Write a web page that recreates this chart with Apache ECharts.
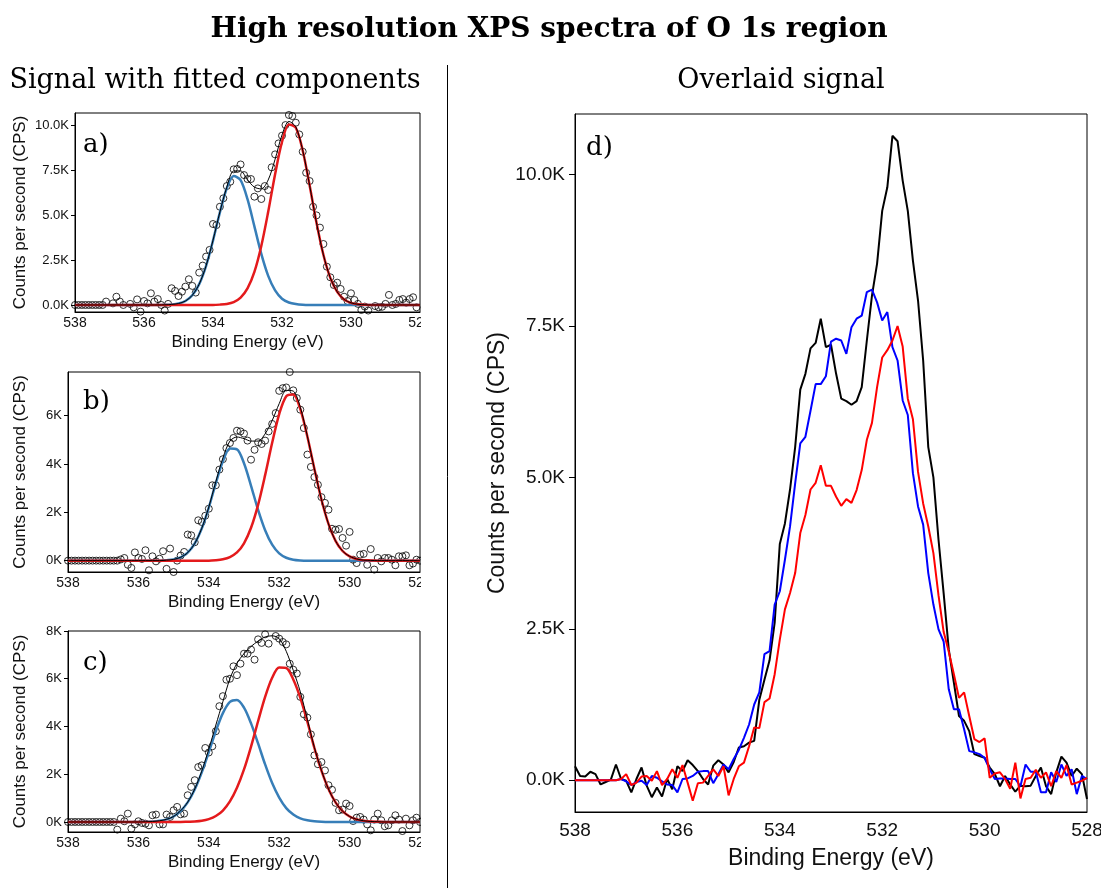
<!DOCTYPE html>
<html><head><meta charset="utf-8">
<script src="https://cdn.jsdelivr.net/npm/echarts@6/dist/echarts.min.js"></script>
<style>html,body{margin:0;padding:0;background:#fff}#c{width:1101px;height:888px}</style>
</head><body><div id="c"></div>
<script>
// Binding energies of the measured points (eV), 0.1 eV step
const dataE = [538.0,537.9,537.8,537.7,537.6,537.5,537.4,537.3,537.2,537.1,
537.0,536.9,536.8,536.7,536.6,536.5,536.4,536.3,536.2,536.1,
536.0,535.9,535.8,535.7,535.6,535.5,535.4,535.3,535.2,535.1,
535.0,534.9,534.8,534.7,534.6,534.5,534.4,534.3,534.2,534.1,
534.0,533.9,533.8,533.7,533.6,533.5,533.4,533.3,533.2,533.1,
533.0,532.9,532.8,532.7,532.6,532.5,532.4,532.3,532.2,532.1,
532.0,531.9,531.8,531.7,531.6,531.5,531.4,531.3,531.2,531.1,
531.0,530.9,530.8,530.7,530.6,530.5,530.4,530.3,530.2,530.1,
530.0,529.9,529.8,529.7,529.6,529.5,529.4,529.3,529.2,529.1,
529.0,528.9,528.8,528.7,528.6,528.5,528.4,528.3,528.2,528.1,528.0];
// Energies of the fitted-curve samples (eV), 0.2 eV step
const fitE = [538.0,537.8,537.6,537.4,537.2,537.0,536.8,536.6,536.4,536.2,
536.0,535.8,535.6,535.4,535.2,535.0,534.8,534.6,534.4,534.2,
534.0,533.8,533.6,533.4,533.2,533.0,532.8,532.6,532.4,532.2,
532.0,531.8,531.6,531.4,531.2,531.0,530.8,530.6,530.4,530.2,
530.0,529.8,529.6,529.4,529.2,529.0,528.8,528.6,528.4,528.2,528.0];

// Panel a) (kCPS)
const pointsA = [0,0,0,0,0,0,0,0,0,0.19,
-0.46,0.09,0.46,0.19,0.0,-0.46,0.06,-0.13,0.31,-0.37,
0.22,0.09,0.65,0.19,0.33,0.0,-0.31,0.06,0.93,0.78,
0.50,0.74,1.02,1.43,1.06,0.69,1.80,2.19,2.69,3.06,
4.50,4.44,5.46,5.93,6.61,6.85,7.54,7.56,7.81,7.22,
7.00,7.00,6.02,6.48,5.89,6.61,6.39,7.65,8.37,8.98,
9.41,10.0,10.56,10.5,10.13,9.48,8.52,7.35,6.89,5.46,
4.98,4.30,3.39,2.13,1.54,1.11,1.24,0.89,0.46,0.22,
0.65,0.28,0.06,-0.28,-0.09,-0.31,-0.46,-0.06,-0.13,-0.10,
0.06,0.56,0.0,0.06,0.28,0.33,0.13,0.33,0.43,-0.13,-0.46];
const blueA = [0,0,0,0,0,0,0,0,0,0,0,0,0,0.01,0.03,0.08,0.22,0.54,1.16,2.18,
3.58,5.15,6.49,7.17,6.94,5.88,4.37,2.84,1.62,0.81,0.35,0.14,0.05,0.01,
0,0,0,0,0,0,0,0,0,0,0,0,0,0,0,0,0];
const redA = [0,0,0,0,0,0,0,0,0,0,0,0,0,0,0,0,0,0,0,0,0,
0.02,0.06,0.16,0.41,0.92,1.84,3.28,5.18,7.27,9.06,10.03,9.85,8.59,6.65,4.57,2.79,1.51,0.73,0.31,0.12,0.04,0.01,
0,0,0,0,0,0,0,0];
const envA = [0,0,0,0,0,0,0,0,0,0,0,0,0,0.01,0.03,0.08,0.22,0.54,1.16,2.18,
3.60,5.17,6.55,7.45,7.45,6.95,6.55,6.45,6.95,8.10,9.45,10.20,9.90,8.60,6.65,4.57,2.79,1.51,0.73,0.31,0.12,0.04,0.01,
0,0,0,0,0,0,0,0];

// Panel b) (kCPS)
const pointsB = [0,0,0,0,0,0,0,0,0,0,
0,0,0,0,0,0.05,0.11,-0.17,-0.30,0.34,
0.11,0.07,0.43,-0.40,0.18,-0.03,0.08,0.39,-0.34,0.50,
-0.47,0.0,0.21,0.36,1.08,1.05,0.76,1.67,1.60,1.86,
2.15,3.12,3.12,3.77,4.20,4.66,4.87,5.08,5.38,5.35,
5.26,4.97,4.18,4.59,4.90,4.83,4.97,5.35,5.66,6.11,
7.03,7.14,7.17,7.81,7.05,6.73,6.25,5.49,4.39,3.88,
3.46,3.14,2.63,2.39,2.11,1.32,1.28,1.31,0.94,0.62,
1.19,0.04,-0.10,0.25,0.28,-0.17,0.48,-0.37,0.11,-0.03,
0.11,0.11,0.04,-0.19,0.18,0.18,0.22,-0.19,-0.12,0.04,0.0];
const blueB = [0,0,0,0,0,0,0,0,0,0,0,0,0,0,
0.02,0.05,0.14,0.33,0.71,1.33,2.20,3.21,4.11,4.64,4.61,4.03,3.10,2.10,1.26,0.66,0.30,0.12,0.04,0.01,
0,0,0,0,0,0,0,0,0,0,0,0,0,0,0,0,0];
const redB = [0,0,0,0,0,0,0,0,0,0,0,0,0,0,0,0,0,0,0,0,0,
0.02,0.06,0.15,0.34,0.72,1.36,2.31,3.54,4.88,6.07,6.81,6.88,6.27,5.14,3.80,2.53,1.52,0.82,0.40,0.18,0.07,0.02,0.01,
0,0,0,0,0,0,0];
const envB = [0,0,0,0,0,0,0,0,0,0,0,0,0,0,
0.02,0.05,0.14,0.33,0.71,1.34,2.22,3.27,4.25,4.95,5.12,5.05,4.95,4.95,5.25,5.80,6.50,7.05,7.02,6.35,5.15,3.80,2.53,1.52,0.82,0.40,0.18,0.07,0.02,0.01,
0,0,0,0,0,0,0];

// Panel c) (kCPS)
const pointsC = [0,0,0,0,0,0,0,0,0,0,
0,0,0,0,-0.32,0.14,0.03,0.35,-0.28,-0.10,
0.03,-0.04,-0.07,-0.14,0.28,0.31,-0.10,-0.10,0.31,0.21,
0.49,0.63,0.32,0.35,1.12,1.47,1.75,2.30,2.37,3.10,
2.91,3.17,3.80,4.85,5.27,5.96,6.00,6.52,6.15,6.63,
7.05,7.05,7.22,6.80,7.65,7.50,7.86,7.47,8.03,7.79,
7.68,7.54,7.44,6.63,6.38,6.22,5.24,4.51,4.37,3.67,
2.79,2.42,2.51,2.16,1.54,1.35,0.80,0.49,0.52,0.77,
0.67,0.04,0.18,0.21,0.10,-0.10,-0.35,0.10,0.35,0.07,
-0.18,-0.14,0.07,0.28,0.10,-0.38,0.14,-0.14,0.07,0.18,0.0];
const blueC = [0,0,0,0,0,0,0,0,0,0,0,
0.01,0.02,0.05,0.11,0.23,0.46,0.82,1.36,2.08,2.93,3.81,4.56,5.03,5.11,4.79,4.13,3.29,2.41,1.63,1.02,0.58,0.31,0.15,0.07,0.03,0.01,
0,0,0,0,0,0,0,0,0,0,0,0,0,0];
const redC = [0,0,0,0,0,0,0,0,0,0,0,0,0,0,0,0,0,
0.01,0.02,0.05,0.12,0.25,0.48,0.86,1.43,2.20,3.16,4.22,5.24,6.04,6.47,6.45,5.97,5.20,4.20,3.10,2.15,1.38,0.82,0.45,0.23,0.11,0.05,0.02,0.01,
0,0,0,0,0,0];
const envC = [0,0,0,0,0,0,0,0,0,0,0,
0.01,0.02,0.05,0.11,0.23,0.47,0.83,1.38,2.13,3.05,4.06,5.04,6.00,6.65,7.05,7.35,7.58,7.75,7.80,7.68,7.15,6.35,5.45,4.30,3.12,2.16,1.38,0.82,0.45,0.23,0.11,0.05,0.02,0.01,
0,0,0,0,0,0];

// Panel d) overlaid signals (kCPS)
const overlayBlack = [0.23,0.07,0.06,0.14,0.10,-0.07,-0.03,0.01,0.26,0.02,
-0.01,-0.20,0.02,0.21,-0.09,-0.28,-0.12,-0.27,0.02,-0.15,
0.23,0.15,0.33,0.25,0.15,0.02,-0.07,0.24,0.33,0.26,
0.13,0.30,0.54,0.56,0.62,0.65,1.33,1.66,1.98,2.60,
3.90,4.24,4.80,5.50,6.45,6.71,7.13,7.22,7.62,7.15,
7.19,6.71,6.30,6.26,6.20,6.26,6.49,7.26,8.00,8.53,
9.40,9.79,10.64,10.55,9.90,9.40,8.58,7.92,6.93,5.50,
5.00,3.97,3.09,2.16,1.61,1.06,0.98,0.81,0.43,0.40,
0.37,0.21,0.10,-0.10,0.07,-0.07,-0.19,-0.09,-0.10,-0.09,
0.07,0.21,-0.10,-0.23,0.13,0.39,0.29,0.07,0.19,0.10,-0.31];
const overlayBlue = [0,0,0,0,0,0,0,0,0,0.02,
-0.02,-0.08,-0.03,-0.01,-0.08,0.07,0.04,-0.02,-0.07,-0.08,
-0.20,0.02,0.03,0.07,0.14,0.15,0.15,-0.05,0.10,0.26,
0.18,0.35,0.50,0.70,0.92,1.25,1.45,2.08,2.13,2.90,
3.12,3.64,4.19,4.90,5.56,5.67,6.10,6.54,6.54,6.67,
7.24,7.29,7.26,7.04,7.48,7.62,7.67,8.06,8.10,7.89,
7.59,7.73,7.15,6.93,6.27,6.03,5.07,4.52,4.22,3.42,
2.90,2.49,2.29,1.50,1.17,1.17,0.84,0.48,0.46,0.43,
0.37,0.18,0.02,0.03,0.03,0.02,0.02,-0.10,0.26,0.14,
0.14,-0.20,-0.20,0.13,-0.03,0.26,0.07,0.18,-0.23,0.07,0.02];
const overlayRed = [0,0,0,0,0,0,0,0,0,0.02,
0.10,-0.08,-0.04,0.06,0.07,-0.01,0.15,-0.08,0.02,0.18,
0.04,0.25,-0.04,-0.34,-0.05,-0.04,0.07,0.18,0.07,0.23,
-0.25,0.02,0.23,0.29,0.56,0.87,0.86,1.29,1.35,1.75,
2.32,2.82,3.09,3.42,4.08,4.38,4.80,4.91,5.20,4.86,
4.86,4.68,4.53,4.64,4.58,4.79,5.12,5.62,5.90,6.49,
6.98,7.10,7.26,7.50,7.16,6.30,5.96,5.09,4.57,4.19,
3.75,3.05,2.45,2.12,1.75,1.36,1.45,1.06,0.68,0.63,
0.69,0.04,0.11,0.13,0.02,-0.14,0.29,-0.30,0.02,0.04,
0.17,0.04,0.13,-0.10,0.15,0.04,0.25,-0.07,-0.04,-0.01,0.04];

// Tick labels
const xTicks = [528,530,532,534,536,538];
const yTicksA = [0,2.5,5,7.5,10];
const yTicksB = [0,2,4,6];
const yTicksC = [0,2,4,6,8];
const yTicksD = [0,2.5,5,7.5,10];

const pair = (xs, ys) => xs.map((x, i) => [x, ys[i]]);

const SANS = '"Liberation Sans", Arial, sans-serif';
const SERIF = '"DejaVu Serif", serif';
const ink = '#111';

const grids = [
  {left:75, top:113, width:345, height:199},
  {left:68, top:372, width:352, height:200},
  {left:68, top:631, width:352, height:201},
  {left:575, top:114, width:512, height:698}
].map(g => Object.assign(g, {show:true, borderColor:'#000', borderWidth:1,
  backgroundColor:'rgba(0,0,0,0)', containLabel:false, outerBoundsMode:'none'}));

function xAxis(gi, big) {
  return {
    type:'value', gridIndex:gi, min:528, max:538, interval:2, inverse:true,
    axisLine:{show:true, onZero:false, lineStyle:{color:'#000', width:1}},
    axisTick:{show:false},
    splitLine:{show:false},
    axisLabel:{show:true, color:ink, fontFamily:SANS, fontSize: big ? 19 : 14, margin: big ? 9 : 4,
      customValues: xTicks, formatter: v => String(v), hideOverlap:false},
    name:'Binding Energy (eV)', nameLocation:'middle', nameGap: big ? 35 : 22,
    nameTextStyle:{color:ink, fontFamily:SANS, fontSize: big ? 23 : 17}
  };
}
function yAxis(gi, min, max, ticks, fmt, big, gap) {
  return {
    type:'value', gridIndex:gi, min:min, max:max,
    axisLine:{show:true, onZero:false, lineStyle:{color:'#000', width:1}},
    axisTick:{show:true, length: big ? 6 : 4, customValues: ticks, lineStyle:{color:'#000'}},
    splitLine:{show:false},
    axisLabel:{show:true, color:ink, fontFamily:SANS, fontSize: big ? 19 : 13, margin: big ? 10 : 6,
      customValues: ticks, formatter: fmt},
    name:'Counts per second (CPS)', nameLocation:'middle', nameGap: gap,
    nameTextStyle:{color:ink, fontFamily:SANS, fontSize: big ? 23 : 17}
  };
}
const fmt1 = v => v.toFixed(1) + 'K';
const fmt0 = v => v.toFixed(0) + 'K';

function fitPanel(gi, pts, blue, red, env) {
  return [
    {type:'scatter', xAxisIndex:gi, yAxisIndex:gi, data:pair(dataE, pts), symbol:'circle', symbolSize:7,
      itemStyle:{color:'rgba(0,0,0,0)', borderColor:'#000', borderWidth:1}, z:2, clip:true},
    {type:'line', xAxisIndex:gi, yAxisIndex:gi, data:pair(fitE, blue), showSymbol:false, smooth:0.3,
      lineStyle:{color:'#377EB8', width:2.5}, z:3},
    {type:'line', xAxisIndex:gi, yAxisIndex:gi, data:pair(fitE, red), showSymbol:false, smooth:0.3,
      lineStyle:{color:'#E41A1C', width:2.5}, z:4},
    {type:'line', xAxisIndex:gi, yAxisIndex:gi, data:pair(fitE, env), showSymbol:false, smooth:0.3,
      lineStyle:{color:'#000', width:1}, z:5}
  ];
}

const series = [].concat(
  fitPanel(0, pointsA, blueA, redA, envA),
  fitPanel(1, pointsB, blueB, redB, envB),
  fitPanel(2, pointsC, blueC, redC, envC),
  [
    {type:'line', xAxisIndex:3, yAxisIndex:3, data:pair(dataE, overlayBlack), showSymbol:false,
      lineStyle:{color:'#000', width:2}, z:3},
    {type:'line', xAxisIndex:3, yAxisIndex:3, data:pair(dataE, overlayBlue), showSymbol:false,
      lineStyle:{color:'#0000FF', width:2}, z:4},
    {type:'line', xAxisIndex:3, yAxisIndex:3, data:pair(dataE, overlayRed), showSymbol:false,
      lineStyle:{color:'#FF0000', width:2}, z:5}
  ]
);

const txt = (x, y, text, font, align) => ({type:'text', x:x, y:y, z:50,
  style:{text:text, font:font, fill:'#000', align:align || 'center', verticalAlign:'middle'}});

const option = {
  animation:false,
  backgroundColor:'#fff',
  grid: grids,
  xAxis: [xAxis(0,false), xAxis(1,false), xAxis(2,false), xAxis(3,true)],
  yAxis: [
    yAxis(0, -0.39, 10.67, yTicksA, fmt1, false, 46),
    yAxis(1, -0.47, 7.81, yTicksB, fmt0, false, 39),
    yAxis(2, -0.42, 8.0, yTicksC, fmt0, false, 39),
    yAxis(3, -0.525, 11.0, yTicksD, fmt1, true, 66)
  ],
  series: series,
  graphic: [
    {type:'rect', z:40, shape:{x:421, y:300, width:25, height:560}, style:{fill:'#fff'}},
    {type:'line', z:41, shape:{x1:447.5, y1:65, x2:447.5, y2:888}, style:{stroke:'#000', lineWidth:1}},
    txt(549, 30, 'High resolution XPS spectra of O 1s region', 'bold 28px ' + SERIF),
    txt(215, 81, 'Signal with fitted components', '27px ' + SERIF),
    txt(781, 81, 'Overlaid signal', '27px ' + SERIF),
    txt(83, 145, 'a)', '26px ' + SERIF, 'left'),
    txt(83, 402, 'b)', '26px ' + SERIF, 'left'),
    txt(83, 663, 'c)', '26px ' + SERIF, 'left'),
    txt(586, 148, 'd)', '26px ' + SERIF, 'left')
  ]
};

const chart = echarts.init(document.getElementById('c'));
chart.setOption(option);
</script>
</body></html>
